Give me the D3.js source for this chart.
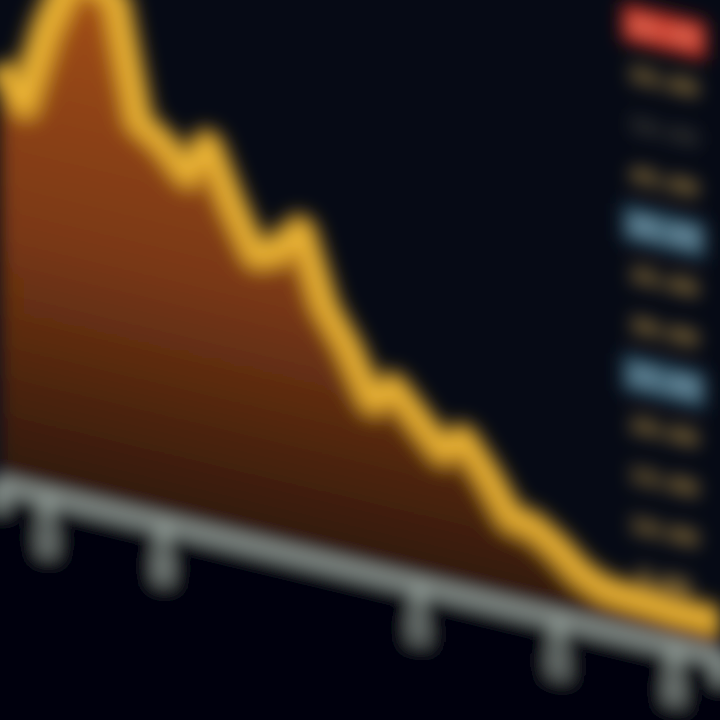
<!DOCTYPE html>
<html><head><meta charset="utf-8">
<script src="https://cdn.jsdelivr.net/npm/d3@7"></script>
<style>html,body{margin:0;padding:0;background:#05080f;}svg{display:block;}</style>
</head><body>
<svg id="chart" width="720" height="720"></svg>
<script>
// ---- data ----
const days = d3.range(32);
const dayLabels = ["01","02","03","04","05","06","07","08","09","10","11","12","13","14","15","16","17","18","19","20","21","22","23","24","25","26","27","28","29","30","31","01"];
const prices = [41.3,38.0,46.0,51.5,52.0,50.5,39.0,37.5,35.0,38.3,33.0,28.5,29.5,32.0,25.0,21.5,16.8,18.5,16.0,13.5,15.0,12.0,8.4,8.0,6.5,4.5,3.4,3.2,3.1,2.9,2.9,2.9];
const xTickDays = [2,7,18,24,29];
const priceTicks = [60,55,50,45,40,35,30,25,20,15,10,5];
const priceTickKinds = ["last","level","minor","level","marker","level","level","marker","level","level","level","level"];

// ---- drawing ----
const W = 720, H = 720;
const svg = d3.select("#chart");
const defs = svg.append("defs");
const blur = defs.append("filter").attr("id","soft").attr("x","-20%").attr("y","-20%").attr("width","140%").attr("height","140%");
blur.append("feGaussianBlur").attr("stdDeviation",9);

const grad = defs.append("linearGradient").attr("id","fillGrad")
  .attr("gradientUnits","userSpaceOnUse").attr("x1",0).attr("x2",0).attr("y1",-500).attr("y2",0);
grad.append("stop").attr("offset","0%").attr("stop-color","#a04c16");
grad.append("stop").attr("offset","50%").attr("stop-color","#7a3812");
grad.append("stop").attr("offset","100%").attr("stop-color","#2e1710");

svg.append("rect").attr("width",W).attr("height",H).attr("fill","#060a15");

const root = svg.append("g").attr("filter","url(#soft)");
const g = root.append("g").attr("transform","translate(0,478) skewY(13.5)");

const x = d3.scaleLinear().domain([0, days.length-1]).range([0, W]);
const y = d3.scaleLinear().domain([0, 50]).range([0, -500]);

// ground below baseline
g.append("rect").attr("x",-20).attr("y",0).attr("width",W+40).attr("height",400).attr("fill","#020307");

const area = d3.area().x((d,i)=>x(days[i])).y0(y(0)).y1(d=>y(d));
const line = d3.line().x((d,i)=>x(days[i])).y(d=>y(d));

g.append("path").datum(prices).attr("d",area).attr("fill","url(#fillGrad)");
g.append("path").datum(prices).attr("d",line).attr("fill","none")
  .attr("stroke","#d49a28").attr("stroke-width",36).attr("stroke-linejoin","round").attr("opacity",0.75);
g.append("path").datum(prices).attr("d",line).attr("fill","none")
  .attr("stroke","#ecb535").attr("stroke-width",16).attr("stroke-linejoin","round");

// x axis
const xAxis = d3.axisBottom(x).tickValues(xTickDays).tickSize(26).tickFormat(d=>dayLabels[d]);
const ax = g.append("g").attr("transform","translate(0,6)").call(xAxis);
ax.select(".domain").attr("stroke","#8e9994").attr("stroke-width",14);
ax.selectAll(".tick line").attr("stroke","#9aa59f").attr("stroke-width",10);
ax.selectAll(".tick text").attr("fill","#a9b4ae").attr("font-family","DejaVu Sans, sans-serif")
  .attr("font-size",22).attr("font-weight","bold")
  .attr("transform","rotate(-90)").attr("text-anchor","end")
  .attr("x",-30).attr("y",0).attr("dx",0).attr("dy","0.35em");

// right price labels
const kindStyle = {
  last:   {box:"#c42a1a", text:"#e88068", op:1},
  level:  {box:"none",    text:"#d6aa50", op:0.9},
  minor:  {box:"none",    text:"#6e6a55", op:0.6},
  marker: {box:"#2c4f62", text:"#8fb6c8", op:0.9}
};
const lbl = g.append("g").selectAll("g").data(priceTicks).join("g")
  .attr("transform", d=>`translate(${x(days.length-1)-56},${y(d)-6})`);
lbl.append("rect").attr("x",-42).attr("y",-19).attr("width",84).attr("height",38).attr("rx",3)
  .attr("fill",(d,i)=>kindStyle[priceTickKinds[i]].box);
lbl.append("text").attr("text-anchor","middle").attr("dy","0.36em")
  .attr("font-family","DejaVu Sans, sans-serif").attr("font-size",22).attr("font-weight","bold")
  .attr("fill",(d,i)=>kindStyle[priceTickKinds[i]].text)
  .attr("opacity",(d,i)=>kindStyle[priceTickKinds[i]].op)
  .text(d=>d.toFixed(2));
</script>
</body></html>
